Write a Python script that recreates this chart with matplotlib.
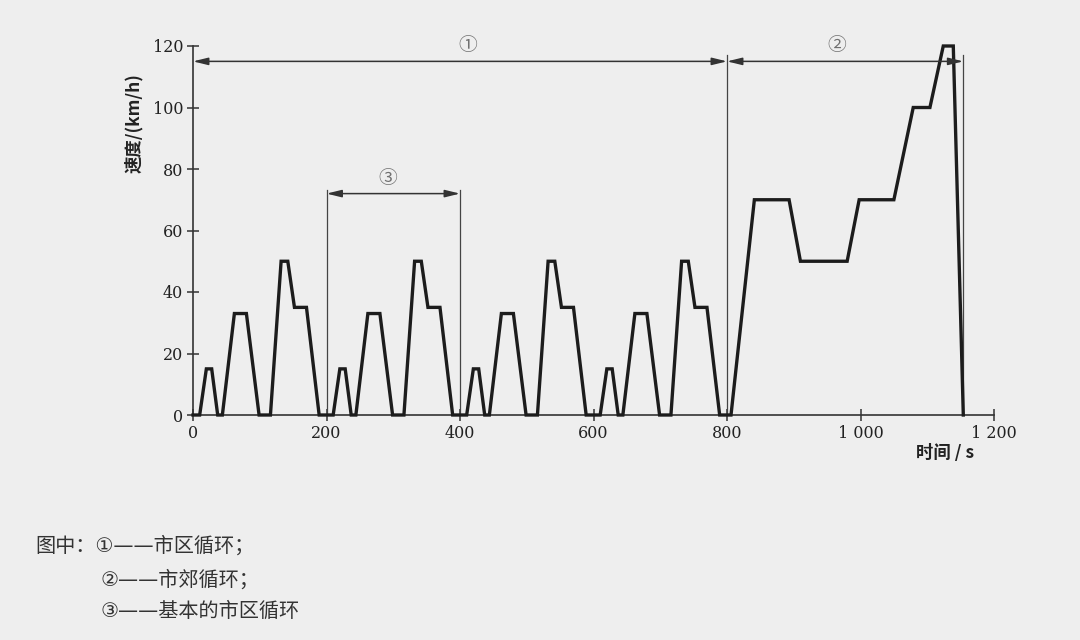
import matplotlib
matplotlib.use("Agg")
import matplotlib.pyplot as plt

# One elementary urban cycle (ECE-15), seconds from its own start, km/h
urban_t = [0, 10, 20, 28, 37, 44, 62, 80, 99, 116, 132, 142, 152, 170, 189, 200]
urban_v = [0, 0, 15, 15, 0, 0, 33, 33, 0, 0, 50, 50, 35, 35, 0, 0]
urban_repeats = 4
urban_period = 200

# Extra-urban cycle (EUDC), absolute seconds, km/h
extra_t = [800, 806, 841, 893, 910, 980, 998, 1050, 1079, 1104, 1124, 1139, 1154]
extra_v = [0, 0, 70, 70, 50, 50, 70, 70, 100, 100, 120, 120, 0]

# Axis ticks and labels
x_ticks = [0, 200, 400, 600, 800, 1000, 1200]
x_tick_labels = ["0", "200", "400", "600", "800", "1 000", "1 200"]
y_ticks = [0, 20, 40, 60, 80, 100, 120]

# Bracket annotations: start, end, level, label, label x
bracket_start = [0, 800, 200]
bracket_end = [800, 1154, 400]
bracket_level = [115, 115, 72]
bracket_label = ["①", "②", "③"]
bracket_label_x = [412, 964, 292]

legend_lines = ["图中：①——市区循环；", "②——市郊循环；", "③——基本的市区循环"]

# Build the full speed trace
t_all, v_all = [], []
for k in range(urban_repeats):
    for t, v in zip(urban_t, urban_v):
        t_all.append(t + k * urban_period)
        v_all.append(v)
t_all += extra_t
v_all += extra_v

BG = "#eeeeee"
INK = "#1c1c1c"
cjk = ["Noto Sans CJK SC", "DejaVu Sans"]
note_font = ["DejaVu Sans", "Noto Sans CJK SC"]
serif = "DejaVu Serif"

fig = plt.figure(figsize=(10.8, 6.4), dpi=100, facecolor=BG)
ax = fig.add_axes([193 / 1080, 1 - 415 / 640, (994 - 193) / 1080, (415 - 46) / 640])
ax.set_facecolor(BG)

ax.plot(t_all, v_all, color=INK, lw=2.4, solid_joinstyle="miter", zorder=3, clip_on=False)

ax.set_xlim(0, 1200)
ax.set_ylim(0, 120)
for side in ("top", "right"):
    ax.spines[side].set_visible(False)
for side in ("left", "bottom"):
    ax.spines[side].set_color("#333333")
    ax.spines[side].set_linewidth(1.2)

ax.set_xticks(x_ticks)
ax.set_xticklabels(x_tick_labels)
ax.set_yticks(y_ticks)
ax.tick_params(direction="inout", length=8, width=1.1, color="#333333",
               labelsize=11.5, labelcolor="#222222", pad=3)
for lab in ax.get_xticklabels() + ax.get_yticklabels():
    lab.set_family(serif)

# Guide lines at the bracket ends
guide_x = [200, 400, 800, 1154]
guide_top = [73.3, 73.3, 117, 117]
for x, top in zip(guide_x, guide_top):
    ax.plot([x, x], [0, top], color="#444444", lw=0.9, zorder=2)

# Double-headed brackets with circled labels
for x0, x1, lvl, lab, lx in zip(bracket_start, bracket_end, bracket_level,
                                bracket_label, bracket_label_x):
    ax.annotate("", xy=(x0, lvl), xytext=(x1, lvl),
                arrowprops=dict(arrowstyle="<|-|>,head_length=0.9,head_width=0.22",
                                mutation_scale=10, color="#333333", lw=1.1,
                                shrinkA=0, shrinkB=0), zorder=4)
    ax.text(lx, lvl + 5, lab, ha="center", va="center",
            fontsize=13.5, color="#707070", family=cjk)

ax.set_ylabel("速度/(km/h)", family=cjk, fontsize=12.5, fontweight="bold",
              color="#222222")
ax.yaxis.set_label_coords(-0.062, 0.79)
fig.text(945 / 1080, 1 - 453 / 640, "时间 / s", ha="center", va="center",
         family=cjk, fontsize=12.5, fontweight="bold", color="#222222")

# Footnote legend beneath the chart
fig.text(35 / 1080, 1 - 545 / 640, legend_lines[0], ha="left", va="center",
         family=note_font, fontsize=14.5, color="#333333")
fig.text(100 / 1080, 1 - 579 / 640, legend_lines[1], ha="left", va="center",
         family=note_font, fontsize=14.5, color="#333333")
fig.text(100 / 1080, 1 - 611 / 640, legend_lines[2], ha="left", va="center",
         family=note_font, fontsize=14.5, color="#333333")

fig.savefig("out.png", dpi=100, facecolor=BG)
